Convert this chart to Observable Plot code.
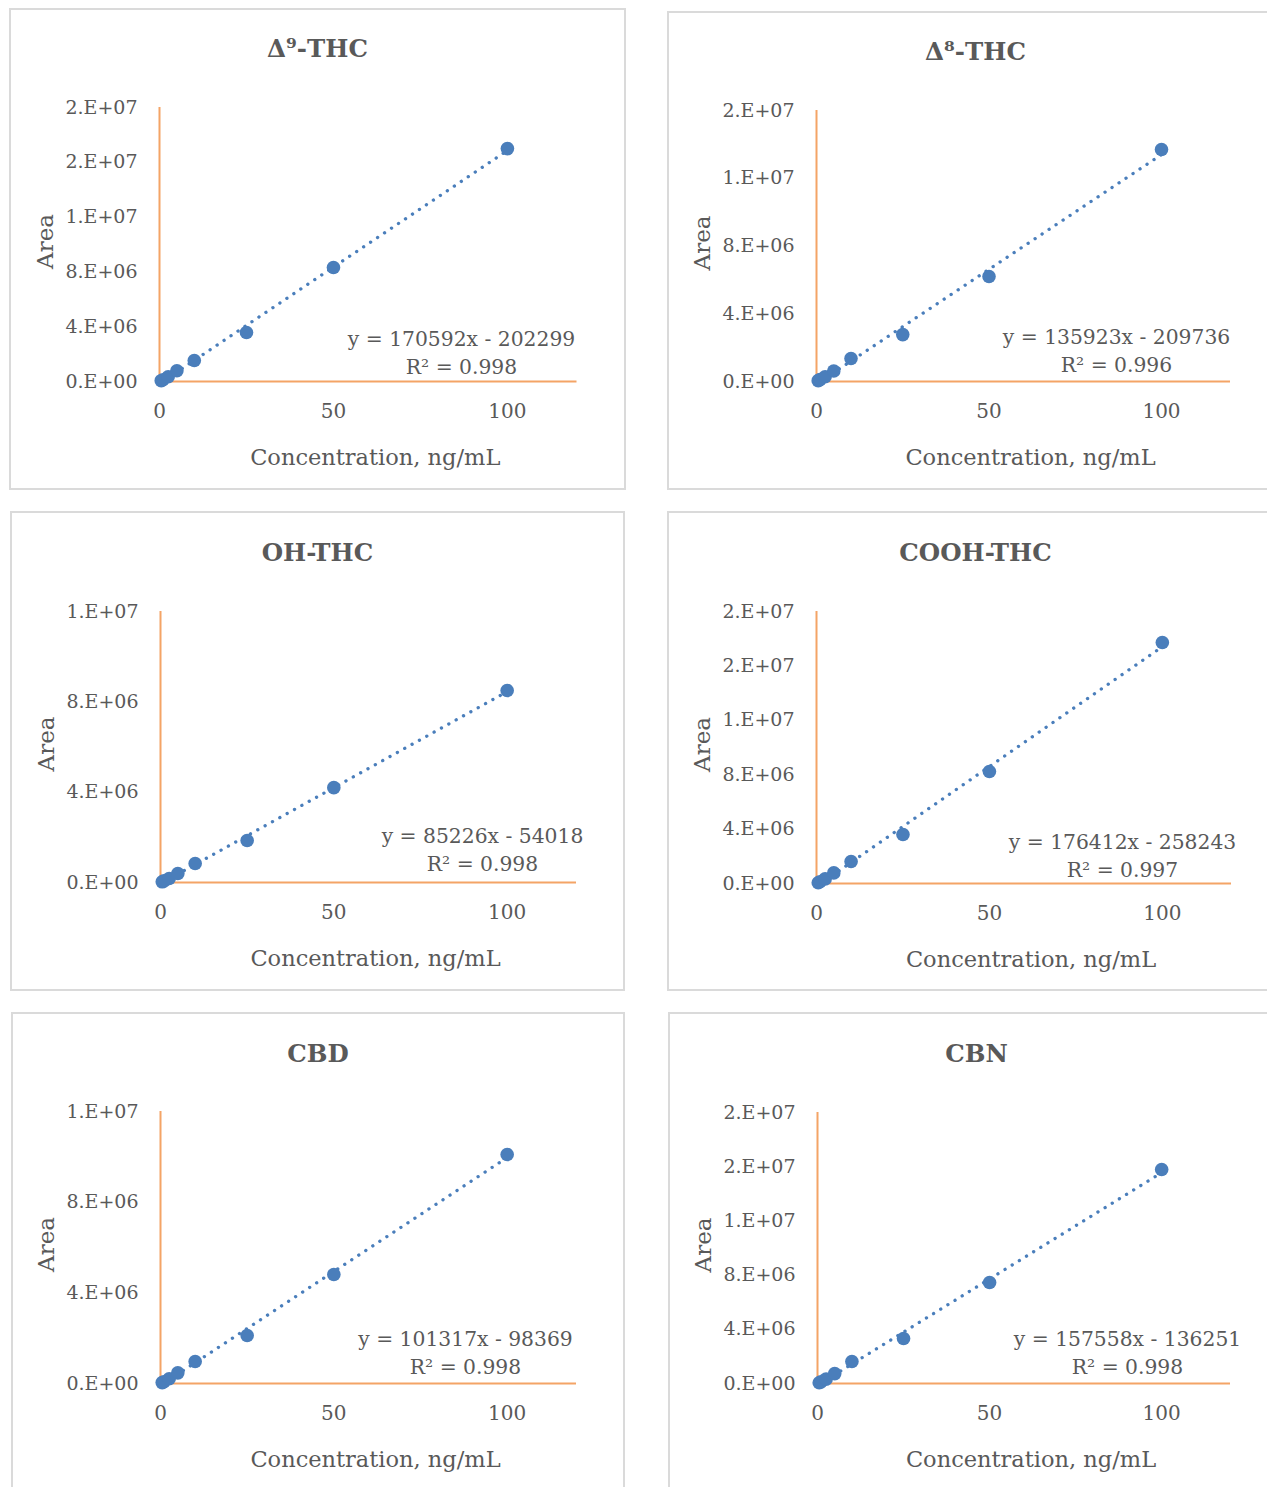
<!DOCTYPE html>
<html>
<head>
<meta charset="utf-8">
<script src="https://cdn.jsdelivr.net/npm/d3@7"></script>
<script src="https://cdn.jsdelivr.net/npm/@observablehq/plot@0.6"></script>
<style>
  html, body { margin: 0; padding: 0; background: #fff; }
  #page { position: relative; width: 1267px; height: 1487px; overflow: hidden; background: #fff; font-family: "DejaVu Serif", serif; }
  .panel { position: absolute; }
  .panel .box { position: absolute; left: 0; top: 0; right: 0; bottom: 0; border: 2px solid #dadada; box-sizing: border-box; }
  .panel svg { position: absolute; left: 0; top: 0; overflow: visible; }
  .panel .title { position: absolute; left: 0; right: 0; text-align: center; font-weight: bold; font-size: 24.5px; color: #595959; font-family: "DejaVu Serif", serif; }
</style>
</head>
<body>
<div id="page"></div>
<script>
// ---- data ----
const compounds = ["Δ⁹-THC", "Δ⁸-THC", "OH-THC", "COOH-THC", "CBD", "CBN"];
const concentrations = [0.5, 1, 2.5, 5, 10, 25, 50, 100];
const areaD9THC   = [60000, 130000, 350000, 780000, 1530000, 3580000, 8320000, 17000000];
const areaD8THC   = [50000, 110000, 280000, 620000, 1360000, 2770000, 6200000, 13700000];
const areaOHTHC   = [30000, 70000, 180000, 400000, 840000, 1860000, 4200000, 8500000];
const areaCOOHTHC = [60000, 130000, 340000, 780000, 1620000, 3600000, 8240000, 17720000];
const areaCBD     = [40000, 80000, 210000, 470000, 970000, 2120000, 4810000, 10100000];
const areaCBN     = [60000, 120000, 320000, 730000, 1620000, 3320000, 7450000, 15790000];
const areas = [areaD9THC, areaD8THC, areaOHTHC, areaCOOHTHC, areaCBD, areaCBN];
const slopes = ["170592", "135923", "85226", "176412", "101317", "157558"];
const intercepts = ["202299", "209736", "54018", "258243", "98369", "136251"];
const r2 = ["0.998", "0.996", "0.998", "0.997", "0.998", "0.998"];
const yMax = [2e7, 1.6e7, 1.2e7, 2e7, 1.2e7, 2e7];
const yTicks = [0, 4e6, 8e6, 1.2e7, 1.6e7, 2e7];
const xTicks = [0, 50, 100];
const xLabel = "Concentration, ng/mL";
const yLabel = "Area";

// ---- layout (page pixels) ----
const layout = [
  {L: 9,   T: 8,    W: 617, H: 482, x0: 159, x1: 576.5, yTop: 107,  yZero: 381,  eqDx: -115.5, eqDy: -30,  titleY: 26},
  {L: 667, T: 11,   W: 617, H: 479, x0: 816, x1: 1230,  yTop: 110,  yZero: 381,  eqDx: -114,   eqDy: -32,  titleY: 26},
  {L: 10,  T: 511,  W: 615, H: 480, x0: 160, x1: 576,   yTop: 611,  yZero: 882,  eqDx: -94,    eqDy: -34,  titleY: 27},
  {L: 667, T: 511,  W: 617, H: 480, x0: 816, x1: 1231,  yTop: 611,  yZero: 883,  eqDx: -109,   eqDy: -29.5, titleY: 27},
  {L: 11,  T: 1012, W: 614, H: 480, x0: 160, x1: 576,   yTop: 1111, yZero: 1383, eqDx: -111,   eqDy: -32,  titleY: 27},
  {L: 668, T: 1012, W: 617, H: 480, x0: 817, x1: 1230,  yTop: 1112, yZero: 1383, eqDx: -103,   eqDy: -32.5, titleY: 27}
];

const BLUE = "#4a7ebb";
const ORANGE = "#f4a466";
const GRAY = "#595959";
const FONT = "DejaVu Serif";

function sci(v) {
  if (v === 0) return "0.E+00";
  let e = Math.floor(Math.log10(Math.abs(v)));
  let m = Math.round(v / Math.pow(10, e));
  if (m === 10) { m = 1; e++; }
  return m + ".E+" + String(e).padStart(2, "0");
}

const page = document.getElementById("page");

compounds.forEach((name, i) => {
  const g = layout[i];
  const data = concentrations.map((c, j) => ({conc: c, area: areas[i][j]}));
  const ticks = yTicks.filter(t => t <= yMax[i] + 1);
  const eq = `y = ${slopes[i]}x - ${intercepts[i]}\nR² = ${r2[i]}`;

  const panel = document.createElement("div");
  panel.className = "panel";
  panel.style.left = g.L + "px";
  panel.style.top = g.T + "px";
  panel.style.width = g.W + "px";
  panel.style.height = g.H + "px";
  const box = document.createElement("div");
  box.className = "box";
  panel.appendChild(box);

  const marginLeft = g.x0 - g.L;
  const marginRight = g.W - (g.x1 - g.L);
  const marginTop = g.yTop - g.T;
  const marginBottom = g.H - (g.yZero - g.T);

  const chart = Plot.plot({
    width: g.W,
    height: g.H,
    marginLeft, marginRight, marginTop, marginBottom,
    style: {fontFamily: FONT, fontSize: "19px", color: GRAY, background: "transparent", overflow: "visible"},
    x: {domain: [0, 120], nice: false, axis: null},
    y: {domain: [0, yMax[i]], nice: false, axis: null},
    marks: [
      Plot.axisY({ticks, tickFormat: sci, tickSize: 0, tickPadding: 22, label: null, fontSize: 19, fill: GRAY}),
      Plot.axisX({ticks: xTicks, tickFormat: d => String(d), tickSize: 0, tickPadding: 22, label: null, fontSize: 20, fill: GRAY}),
      Plot.ruleX([0], {stroke: ORANGE, strokeWidth: 2}),
      Plot.ruleY([0], {stroke: ORANGE, strokeWidth: 2}),
      Plot.linearRegressionY(data, {x: "conc", y: "area", ci: 0, stroke: BLUE, strokeWidth: 3.3, strokeDasharray: "0.1 8.3", strokeLinecap: "round"}),
      Plot.dot(data, {x: "conc", y: "area", r: 6.8, fill: BLUE, stroke: "none"}),
      Plot.text([eq], {frameAnchor: "bottom-right", text: d => d, textAnchor: "middle", lineAnchor: "middle", lineHeight: 1.38, dx: g.eqDx, dy: g.eqDy, fontSize: 20.3, fill: GRAY, fontFamily: FONT}),
      Plot.text([yLabel], {frameAnchor: "left", text: d => d, rotate: -90, textAnchor: "middle", lineAnchor: "middle", dx: -114, dy: -3, fontSize: 23, fill: GRAY, fontFamily: FONT}),
      Plot.text([xLabel], {frameAnchor: "bottom", text: d => d, textAnchor: "middle", lineAnchor: "middle", dx: 7, dy: 76, fontSize: 22.5, fill: GRAY, fontFamily: FONT})
    ]
  });
  panel.appendChild(chart);

  const title = document.createElement("div");
  title.className = "title";
  title.style.top = g.titleY + "px";
  title.textContent = name;
  panel.appendChild(title);

  page.appendChild(panel);
});
</script>
</body>
</html>
